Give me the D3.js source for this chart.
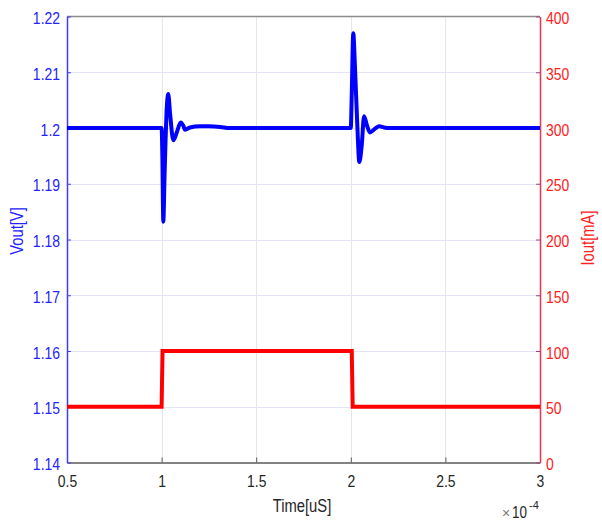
<!DOCTYPE html>
<html><head><meta charset="utf-8">
<script src="https://cdn.jsdelivr.net/npm/d3@7"></script>
<style>body{margin:0;background:#fff}svg{display:block}text{font-family:"Liberation Sans",Arial,sans-serif}</style>
</head><body><svg id="c" width="602" height="525"></svg>
<script>
// time in units of 1e-4 s
const voutTime = [0.5, 1.0, 1.004, 1.009, 1.016, 1.028, 1.035, 1.045, 1.062, 1.08, 1.101, 1.115, 1.124, 1.15, 1.2, 1.25, 1.31, 1.36, 2.0, 2.005, 2.013, 2.022, 2.035, 2.045, 2.058, 2.07, 2.085, 2.101, 2.125, 2.151, 2.175, 2.207, 3.0];
const voutValue = [1.2, 1.2, 1.195, 1.1832, 1.192, 1.204, 1.2061, 1.2025, 1.1978, 1.1992, 1.201, 1.2004, 1.1997, 1.2001, 1.2003, 1.2003, 1.2002, 1.2, 1.2, 1.206, 1.217, 1.211, 1.200, 1.1939, 1.197, 1.2021, 1.2005, 1.1992, 1.1998, 1.2003, 1.2001, 1.2, 1.2];
const ioutTime = [0.5, 1.0, 1.005, 2.005, 2.01, 3.0];
const ioutValue = [50, 50, 100, 100, 50, 50];
const xTicks = [0.5, 1, 1.5, 2, 2.5, 3];
const yLeftTicks = [1.14, 1.15, 1.16, 1.17, 1.18, 1.19, 1.2, 1.21, 1.22];
const yRightTicks = [0, 50, 100, 150, 200, 250, 300, 350, 400];

const svg = d3.select("#c");
const L = 67, R = 540, T = 16.5, B = 462.5;
const FS = 17;
const x = d3.scaleLinear().domain([0.5, 3]).range([L, R]);
const yL = d3.scaleLinear().domain([1.14, 1.22]).range([B, T]);
const yR = d3.scaleLinear().domain([0, 400]).range([B, T]);

// grid
const g = svg.append("g");
g.selectAll(".vg").data(xTicks.slice(1, -1)).join("line")
  .attr("x1", d => Math.round(x(d)) + 0.5).attr("x2", d => Math.round(x(d)) + 0.5)
  .attr("y1", T).attr("y2", B).attr("stroke", "#e6e6e6").attr("stroke-width", 1);
g.selectAll(".hg").data(yLeftTicks.slice(1, -1)).join("line")
  .attr("y1", d => Math.round(yL(d)) + 0.5).attr("y2", d => Math.round(yL(d)) + 0.5)
  .attr("x1", L).attr("x2", R).attr("stroke", "#e4e4f6").attr("stroke-width", 1);

// box top
svg.append("line").attr("x1", L).attr("x2", R).attr("y1", T).attr("y2", T).attr("stroke", "#8c8c8c").attr("stroke-width", 1.5);

// bottom axis
const xAxis = d3.axisBottom(x).tickValues(xTicks).tickFormat(d3.format("")).tickSizeInner(-5).tickSizeOuter(0);
const gx = svg.append("g").attr("transform", `translate(0,${B})`).call(xAxis);
gx.select(".domain").attr("stroke", "#5a5a5a").attr("stroke-width", 1.3);
gx.selectAll(".tick line").attr("stroke", "#5a5a5a");
gx.selectAll("text").attr("fill", "#262626").attr("font-size", FS).attr("y", 24.5).attr("dy", null);

// left axis
const lAxis = d3.axisLeft(yL).tickValues(yLeftTicks).tickFormat(d3.format("")).tickSizeInner(-4).tickSizeOuter(0).tickPadding(7);
const gl = svg.append("g").attr("transform", `translate(${L},0)`).call(lAxis);
gl.select(".domain").attr("stroke", "#3c3cff").attr("stroke-width", 1.5);
gl.selectAll(".tick line").attr("stroke", "#3c3cff");
gl.selectAll("text").attr("fill", "#2323ff").attr("font-size", FS).attr("dy", "0.42em");

// right axis
const rAxis = d3.axisRight(yR).tickValues(yRightTicks).tickFormat(d3.format("")).tickSizeInner(-4).tickSizeOuter(0).tickPadding(6);
const gr = svg.append("g").attr("transform", `translate(${R},0)`).call(rAxis);
gr.select(".domain").attr("stroke", "#f0334a").attr("stroke-width", 1.5);
gr.selectAll(".tick line").attr("stroke", "#a04080");
gr.selectAll("text").attr("fill", "#ff2020").attr("font-size", FS).attr("dy", "0.42em");

// lines
const lineV = d3.line().x((d, i) => x(voutTime[i])).y(d => yL(d)).curve(d3.curveMonotoneX);
svg.append("path").datum(voutValue).attr("d", lineV).attr("fill", "none")
  .attr("stroke", "#0000ff").attr("stroke-width", 4).attr("stroke-linejoin", "round");
const lineI = d3.line().x((d, i) => x(ioutTime[i])).y(d => yR(d));
svg.append("path").datum(ioutValue).attr("d", lineI).attr("fill", "none")
  .attr("stroke", "#ff0000").attr("stroke-width", 4).attr("stroke-linejoin", "miter");

// labels
svg.append("text").attr("transform", `translate(23,231) rotate(-90)`)
  .attr("text-anchor", "middle").attr("fill", "#2323ff").attr("font-size", 18).text("Vout[V]");
svg.append("text").attr("transform", `translate(594,238) rotate(-90)`)
  .attr("text-anchor", "middle").attr("fill", "#ff2020").attr("font-size", 18).text("Iout[mA]");
svg.append("text").attr("x", 302).attr("y", 512).attr("text-anchor", "middle")
  .attr("fill", "#262626").attr("font-size", 18).text("Time[uS]");

// condense text horizontally (reference font is narrow)
svg.selectAll("text").each(function () {
  const w = this.getComputedTextLength();
  d3.select(this).attr("textLength", (w * 0.82).toFixed(2)).attr("lengthAdjust", "spacingAndGlyphs");
});

// exponent multiplier, as separate non-overlapping pieces
svg.append("text").attr("x", 502).attr("y", 518).attr("fill", "#777").attr("font-size", 14).text("×");
svg.append("text").attr("x", 512).attr("y", 518).attr("fill", "#262626").attr("font-size", 16)
  .attr("textLength", 15).attr("lengthAdjust", "spacingAndGlyphs").text("10");
svg.append("text").attr("x", 529).attr("y", 509).attr("fill", "#262626").attr("font-size", 11).text("-4");
</script></body></html>
